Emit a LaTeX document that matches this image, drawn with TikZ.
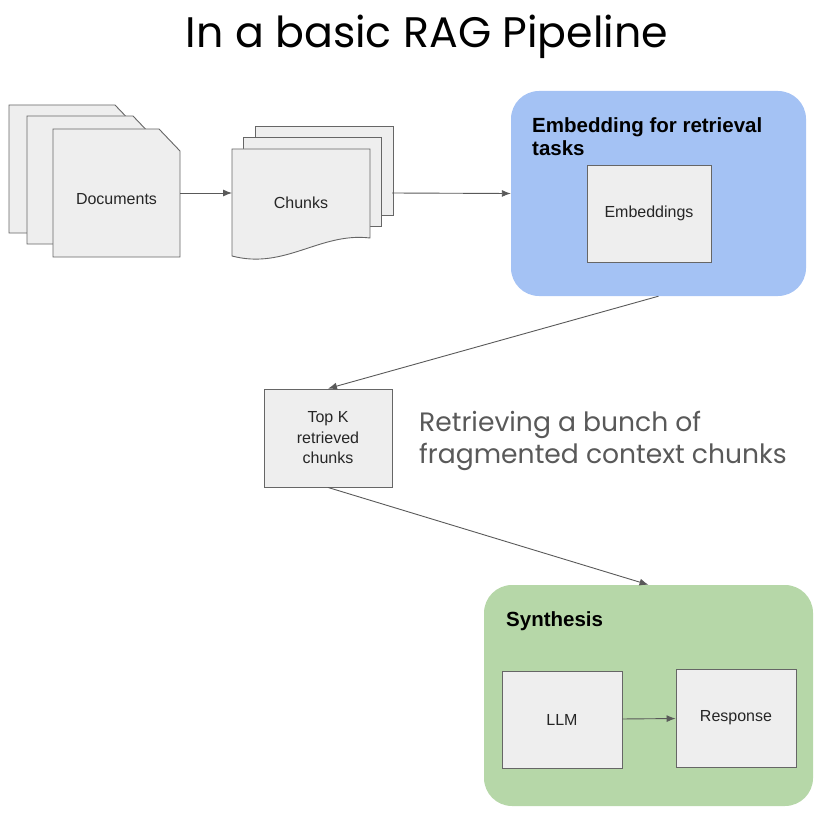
\documentclass[tikz,border=0pt]{standalone}
\usepackage{fontspec}
\setmainfont{Liberation Sans}
\newfontfamily\poppins{Poppins}
\usetikzlibrary{arrows.meta}
\usepackage{xcolor}
\definecolor{boxfill}{HTML}{EEEEEE}
\definecolor{boxline}{HTML}{666666}
\definecolor{arrowgray}{HTML}{595959}
\definecolor{embedblue}{HTML}{A4C2F4}
\definecolor{synthgreen}{HTML}{B6D7A8}

\begin{document}
\begin{tikzpicture}[x=1pt,y=-1pt]
  \tikzstyle{every node}=[font=\fontsize{16}{20.5}\selectfont, text=black!85]
  \tikzstyle{page}=[draw=boxline, fill=boxfill, line width=0.9pt]
  \tikzstyle{item}=[page, align=center]
  \tikzstyle{group}=[rounded corners=28pt, inner sep=0pt]
  \tikzstyle{heading}=[font=\bfseries\fontsize{20.5}{23}\selectfont, text=black, anchor=north west, align=left, inner sep=0pt]
  \tikzstyle{link}=[draw=arrowgray, line width=0.9pt, -{Latex[length=9pt,width=7pt]}]
  \useasboundingbox (0,0) rectangle (821,821);

  \node (title) at (427,48) [anchor=base, text=black, font=\poppins\fontsize{42.7}{50}\selectfont] {In a basic RAG Pipeline};

  % stacked documents
  \foreach \dx/\dy in {-44/-24, -26/-13, 0/0}
    \draw[page, shift={(\dx,\dy)}] (53,129) -- (159,129) -- (180,151) -- (180,257) -- (53,257) -- cycle;
  \node (docs) at (116.5,199) {Documents};
  \coordinate (docs-out) at (180,193);

  % stacked chunks
  \foreach \d in {23, 11.5}
    \draw[page, shift={(\d,-\d)}] (232,149) rectangle (370,238);
  \draw[page] (232,149) -- (370,149) -- (370,238) .. controls (320,232) and (285,270) .. (232,256) -- cycle;
  \node (chunks) at (301,203) {Chunks};
  \coordinate (chunks-in) at (232,193);
  \coordinate (chunks-out) at (392,193);

  % embedding group
  \node (embed) at (658.5,193.5) [group, fill=embedblue, minimum width=295pt, minimum height=205pt] {};
  \node (embedtitle) at (532,117) [heading] {Embedding for retrieval\\tasks};
  \node (vectors) at (649,213.5) [item, minimum width=124pt, minimum height=97pt] {Embeddings};

  \node (topk) at (328,438) [item, minimum width=128pt, minimum height=98pt] {Top K\\retrieved\\chunks};
  \node (note) at (419,441) [anchor=west, align=left, inner sep=0pt, text=arrowgray, font=\poppins\fontsize{26.6}{32}\selectfont] {Retrieving a bunch of\\fragmented context chunks};

  % synthesis group
  \node (synth) at (648.5,695.5) [group, fill=synthgreen, minimum width=329pt, minimum height=221pt] {};
  \node (synthtitle) at (506,611) [heading] {Synthesis};
  \node (llm) at (562,719.5) [item, minimum width=120pt, minimum height=97pt] {LLM};
  \node (resp) at (736,718) [item, minimum width=120pt, minimum height=98pt] {Response};

  \draw[link] (docs-out) -- (chunks-in);
  \draw[link] (chunks-out) -- (embed.west);
  \draw[link] (embed.south) -- (topk.north);
  \draw[link] (topk.south) -- (synth.north);
  \draw[link] (llm) -- (resp);
\end{tikzpicture}
\end{document}
